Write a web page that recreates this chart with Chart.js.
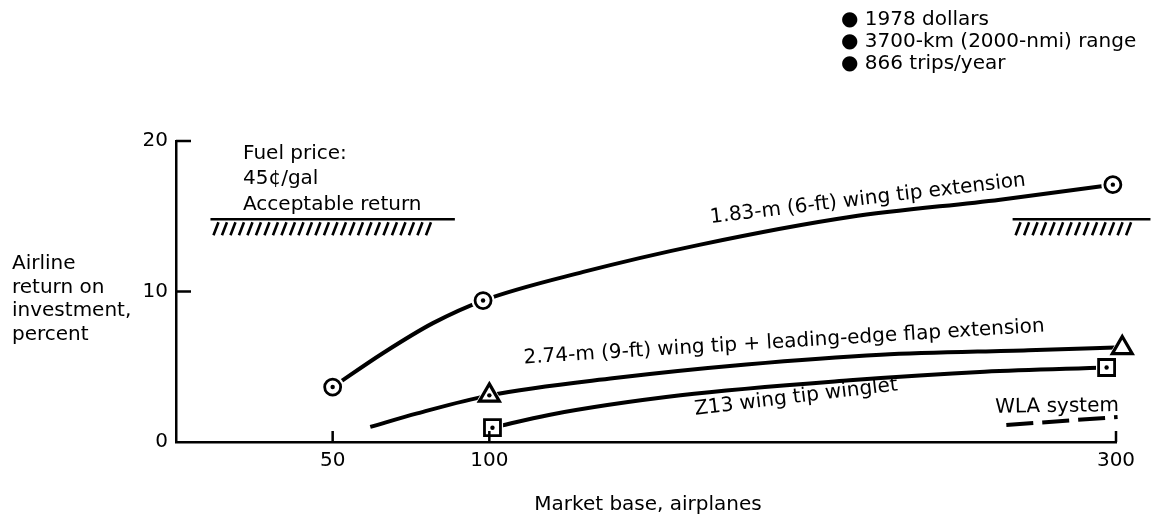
<!DOCTYPE html>
<html>
<head>
<meta charset="utf-8">
<title>Airline return on investment</title>
<script src="https://cdn.jsdelivr.net/npm/chart.js@4.4.0/dist/chart.umd.min.js"></script>
<style>
  html, body { margin: 0; padding: 0; background: #fff; }
  #wrap { width: 1153px; height: 519px; }
</style>
</head>
<body>
<div id="wrap"><canvas id="roiChart" width="1153" height="519"></canvas></div>
<script>
'use strict'

// market base (airplanes) vs. airline return on investment (percent)
const xTicks = [50, 100, 300];
const yTicks = [0, 10, 20];

const tipExtX = [50, 66, 82, 98, 130, 167, 215, 263, 299];
const tipExtY = [3.65, 5.9, 7.9, 9.4, 11.3, 13.1, 14.95, 16.1, 17.1];
const tipExtMarkX = [50, 98, 299];
const tipExtMarkY = [3.65, 9.4, 17.1];

const tipFlapX = [62, 77, 100, 140, 182, 225, 272, 302];
const tipFlapY = [1.0, 1.9, 3.1, 4.25, 5.15, 5.8, 6.1, 6.3];
const tipFlapMarkX = [100, 302];
const tipFlapMarkY = [3.1, 6.25];

const wingletX = [101, 119, 161, 215, 258, 297];
const wingletY = [0.95, 1.8, 3.1, 4.1, 4.67, 4.95];
const wingletMarkX = [101, 297];
const wingletMarkY = [0.95, 4.95];

const wlaX = [265, 300.5];
const wlaY = [1.13, 1.66];

// acceptable return (hatched marks)
const acceptLeftX = [11, 89];
const acceptRightX = [267, 311];
const acceptY = 14.8;

const notes = ['● 1978 dollars', '● 3700-km (2000-nmi) range', '● 866 trips/year'];
const fuelNote = ['Fuel price:', '45¢/gal', 'Acceptable return'];
const yTitle = ['Airline', 'return on', 'investment,', 'percent'];
const xTitle = 'Market base, airplanes';

const curveLabels = [
    {text: '1.83-m (6-ft) wing tip extension', x: 221, y: 15.8, angle: -6.8},
    {text: '2.74-m (9-ft) wing tip + leading-edge flap extension', x: 194.2, y: 6.28, angle: -3.5},
    {text: 'Z13 wing tip winglet', x: 198.1, y: 2.62, angle: -6.9},
    {text: 'WLA system', x: 281.2, y: 2.0, angle: -0.8}
];

const FONT = '20px "DejaVu Sans"';

function pts(xs, ys) {
    return xs.map((x, i) => ({x: x, y: ys[i]}));
}

function line(xs, ys, extra) {
    return Object.assign({
        data: pts(xs, ys),
        borderColor: '#000',
        borderWidth: 4,
        pointRadius: 0,
        cubicInterpolationMode: 'monotone',
        clip: false,
        order: 5
    }, extra);
}

function marks(xs, ys, extra) {
    return Object.assign({
        data: pts(xs, ys),
        showLine: false,
        borderColor: '#000',
        pointBorderColor: '#000',
        pointBackgroundColor: '#fff',
        pointBorderWidth: 2.8,
        clip: false
    }, extra);
}

const extrasPlugin = {
    id: 'extras',
    afterDraw(chart) {
        const {ctx, scales: {x, y}} = chart;
        ctx.save();
        ctx.strokeStyle = '#000';
        ctx.fillStyle = '#000';

        // inward tick marks
        ctx.lineWidth = 2.5;
        ctx.beginPath();
        xTicks.forEach(v => {
            const px = x.getPixelForValue(v);
            ctx.moveTo(px, y.bottom);
            ctx.lineTo(px, y.bottom - 11);
        });
        yTicks.slice(1).forEach(v => {
            const py = y.getPixelForValue(v);
            ctx.moveTo(x.left, py);
            ctx.lineTo(x.left + 15, py);
        });
        ctx.stroke();

        // hatching under the acceptable return lines
        const py = y.getPixelForValue(acceptY);
        ctx.lineWidth = 2.6;
        ctx.beginPath();
        [acceptLeftX, acceptRightX].forEach(r => {
            const x1 = x.getPixelForValue(r[0]);
            const x2 = x.getPixelForValue(r[1]);
            for (let hx = x1 + 3; hx + 5 <= x2 - 18; hx += 8.5) {
                ctx.moveTo(hx, py + 16);
                ctx.lineTo(hx + 5, py + 3);
            }
        });
        ctx.stroke();

        ctx.font = FONT;
        ctx.textBaseline = 'alphabetic';

        // curve labels
        ctx.textAlign = 'center';
        curveLabels.forEach(l => {
            ctx.save();
            ctx.translate(x.getPixelForValue(l.x), y.getPixelForValue(l.y));
            ctx.rotate(l.angle * Math.PI / 180);
            ctx.fillText(l.text, 0, 0);
            ctx.restore();
        });
        ctx.fillText(xTitle, 648, 510);

        ctx.textAlign = 'left';
        notes.forEach((t, i) => ctx.fillText(t, 841, 25 + i * 22));
        fuelNote.forEach((t, i) => ctx.fillText(t, 243, [159, 184, 210][i]));
        yTitle.forEach((t, i) => ctx.fillText(t, 12, 269 + i * 23.7));
        ctx.restore();
    }
};

new Chart(document.getElementById('roiChart'), {
    type: 'line',
    data: {
        datasets: [
            line(tipExtX, tipExtY),
            line(tipFlapX, tipFlapY),
            line(wingletX, wingletY),
            line(wlaX, wlaY, {borderDash: [27, 9], cubicInterpolationMode: 'default'}),
            line(acceptLeftX, [acceptY, acceptY], {borderWidth: 2.5}),
            line(acceptRightX, [acceptY, acceptY], {borderWidth: 2.5}),
            // white halos leave a gap between curve and symbol
            marks(tipExtMarkX, tipExtMarkY, {pointStyle: 'circle', pointRadius: 11.5, pointBorderWidth: 0, order: 3}),
            marks(tipFlapMarkX, tipFlapMarkY, {pointStyle: 'triangle', pointRadius: 16, pointBorderWidth: 0, order: 3}),
            marks(wingletMarkX, wingletMarkY, {pointStyle: 'rect', pointRadius: 15, pointBorderWidth: 0, order: 3}),
            marks(tipExtMarkX, tipExtMarkY, {pointStyle: 'circle', pointRadius: 8, order: 2}),
            marks(tipFlapMarkX, tipFlapMarkY, {pointStyle: 'triangle', pointRadius: 11.5, pointBorderWidth: 3.2, order: 2}),
            marks(wingletMarkX, wingletMarkY, {pointStyle: 'rect', pointRadius: 11.3, order: 2}),
            marks(tipExtMarkX.concat(tipFlapMarkX, wingletMarkX), tipExtMarkY.concat(tipFlapMarkY, wingletMarkY),
                {pointStyle: 'circle', pointRadius: 2.2, pointBorderWidth: 0, pointBackgroundColor: '#000', order: 1})
        ]
    },
    options: {
        responsive: false,
        animation: false,
        events: [],
        layout: {padding: {left: 0, top: 141, right: 37, bottom: 0}},
        plugins: {legend: {display: false}, tooltip: {enabled: false}},
        scales: {
            x: {
                type: 'linear',
                min: 0,
                max: 300,
                afterBuildTicks: axis => { axis.ticks = xTicks.map(v => ({value: v})); },
                afterFit: axis => { axis.height = 77; },
                grid: {display: false, drawTicks: false},
                border: {color: '#000', width: 2.5},
                ticks: {color: '#000', font: {family: 'DejaVu Sans', size: 20}, padding: 7, maxRotation: 0}
            },
            y: {
                min: 0,
                max: 20,
                afterBuildTicks: axis => { axis.ticks = yTicks.map(v => ({value: v})); },
                afterFit: axis => { axis.width = 176; },
                grid: {display: false, drawTicks: false},
                border: {color: '#000', width: 2.5},
                ticks: {color: '#000', font: {family: 'DejaVu Sans', size: 20}, padding: 8}
            }
        }
    },
    plugins: [extrasPlugin]
});
</script>
</body>
</html>
